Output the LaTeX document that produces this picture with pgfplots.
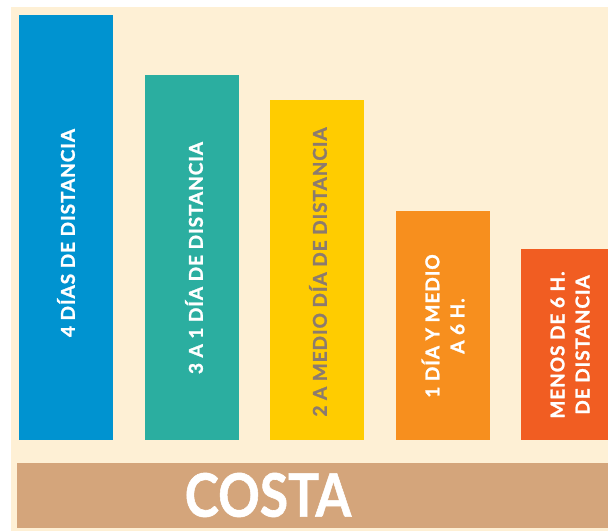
\documentclass[border=0pt]{standalone}
\usepackage{pgfplots}
\pgfplotsset{compat=1.18}
\usepackage{fontspec}
\setmainfont{Lato}
\newfontfamily\barfont{Lato}[LetterSpace=5, FakeBold=1.4]
\newfontfamily\bigfont{Lato}[FakeBold=1]
\definecolor{cream}{HTML}{FEF0D5}
\definecolor{cblue}{HTML}{0093D0}
\definecolor{cteal}{HTML}{2BAEA0}
\definecolor{cyellow}{HTML}{FFCC00}
\definecolor{corange}{HTML}{F78F1E}
\definecolor{cred}{HTML}{F15D22}
\definecolor{ctan}{HTML}{D4A57B}
\definecolor{ytext}{HTML}{8C7B6E}
\begin{document}
\begin{tikzpicture}
\begin{axis}[
  scale only axis, width=597pt, height=524pt,
  xmin=11, xmax=608, ymin=-91, ymax=433,
  axis line style={draw=none}, ticks=none,
  axis background/.style={fill=cream},
  clip=true,
  ybar, bar width=94, bar shift=0pt,
]
\fill[ctan] (axis cs:17,-23) rectangle (axis cs:608,-88);
\addplot[fill=cblue, draw=none] coordinates {(66,425)};
\addplot[fill=cteal, draw=none] coordinates {(191.5,365)};
\addplot[fill=cyellow, draw=none] coordinates {(317,340)};
\addplot[fill=corange, draw=none] coordinates {(443,229)};
\addplot[fill=cred, draw=none] coordinates {(568,191)};
\node[rotate=90, text=white, font=\barfont\bfseries\fontsize{19}{20}\selectfont] at (axis cs:66,207) {4 DÍAS DE DISTANCIA};
\node[rotate=90, text=white, font=\barfont\bfseries\fontsize{19}{20}\selectfont] at (axis cs:194,182) {3 A 1 DÍA DE DISTANCIA};
\node[rotate=90, text=ytext, font=\barfont\bfseries\fontsize{19}{20}\selectfont] at (axis cs:318,168) {2 A MEDIO DÍA DE DISTANCIA};
\node[rotate=90, text=white, align=center, font=\barfont\bfseries\fontsize{19}{25}\selectfont] at (axis cs:443,114) {1 DÍA Y MEDIO\\A 6 H.};
\node[rotate=90, text=white, align=center, font=\barfont\bfseries\fontsize{19}{25}\selectfont] at (axis cs:570,95) {MENOS DE 6 H.\\DE DISTANCIA};
\node[text=white, font=\bigfont\bfseries\fontsize{60}{60}\selectfont] at (axis cs:268,-55) {\scalebox{0.86}[1]{COSTA}};
\end{axis}
\path (current axis.south west) ++(-11pt,0pt) coordinate (a);
\path (current axis.north east) ++(0pt,7pt) coordinate (b);
\path (a) rectangle (b);
\end{tikzpicture}
\end{document}
